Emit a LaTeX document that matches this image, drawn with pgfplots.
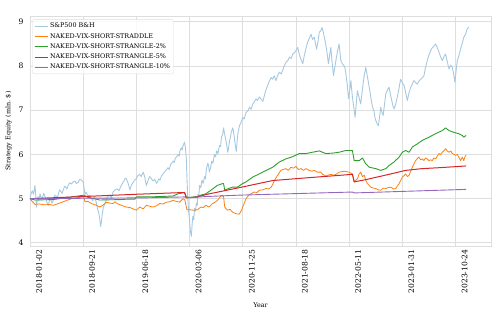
\documentclass[border=0pt]{standalone}
\usepackage{fontspec}
\setmainfont{DejaVu Serif}
\usepackage{pgfplots}
\pgfplotsset{compat=1.18}
\definecolor{spx}{RGB}{165,201,225}
\definecolor{tabor}{RGB}{255,127,14}
\definecolor{tabgr}{RGB}{44,160,44}
\definecolor{tabrd}{RGB}{214,39,40}
\definecolor{tabpu}{RGB}{148,103,189}
\definecolor{gridc}{RGB}{222,222,222}
\begin{document}
\begin{tikzpicture}
\path[use as bounding box] (-30pt,-63pt) rectangle (468pt,246pt);
\begin{axis}[
  at={(0,0)}, anchor=south west,
  scale only axis, width=461pt, height=230pt,
  xmin=0, xmax=1560, ymin=3.93, ymax=9.13,
  xtick={0,180,360,540,720,900,1080,1260,1440},
  xticklabels={2018-01-02,2018-09-21,2019-06-18,2020-03-06,2020-11-25,2021-08-18,2022-05-11,2023-01-31,2023-10-24},
  ytick={4,5,6,7,8,9},
  /pgf/number format/assume math mode=true,
  major tick length=0pt,
  grid=major,
  major grid style={color=gridc, line width=0.9pt},
  axis line style={color=gridc, line width=0.9pt},
  tick label style={font=\fontsize{7.6}{8.5}\selectfont},
  xticklabel style={rotate=90, anchor=east, yshift=-9pt},
  yticklabel style={xshift=-3pt},
  xlabel={Year},
  ylabel={Strategy Equity (mln. \$)},
  label style={font=\fontsize{6.4}{7.5}\selectfont},
  xlabel style={yshift=-3pt},
  legend pos=north west,
  legend cell align=left,
  legend style={font=\fontsize{6.4}{7.5}\selectfont, draw=gridc, fill=white, fill opacity=0.8, text opacity=1, rounded corners=1.5pt, at={(0.005,0.985)}, anchor=north west, inner sep=1.5pt},
  legend image code/.code={\draw[#1] (0pt,0pt) -- (13pt,0pt);},
  every axis plot/.append style={line join=round},
]
\addplot[spx, line width=0.9pt] coordinates {
(0,5.01)(4,5.12)(8,5.18)(12,5.10)(17,5.30)(22,4.81)(25,5.0)(27,5.05)(30,4.95)(34,5.11)(38,5.02)(42,5.0)(46,5.12)(51,5.05)(57,4.92)(62,4.85)(66,4.97)(70,4.98)(74,4.90)(79,4.96)(84,5.08)(88,5.06)(92,5.02)(96,5.10)(100,5.20)(104,5.17)(108,5.12)(113,5.20)(117,5.28)(121,5.26)(125,5.22)(129,5.30)(134,5.36)(140,5.33)(146,5.38)(152,5.40)(157,5.34)(163,5.37)(168,5.44)(174,5.42)(180,5.38)(186,5.10)(190,5.15)(196,5.06)(202,5.08)(208,5.00)(212,4.95)(216,5.04)(222,4.96)(225,4.90)(229,4.75)(232,4.70)(236,4.55)(239,4.37)(242,4.50)(244,4.62)(248,4.80)(253,4.88)(259,5.00)(264,5.05)(270,5.08)(275,5.02)(281,5.15)(288,5.20)(295,5.22)(301,5.18)(309,5.30)(314,5.36)(318,5.40)(322,5.46)(326,5.45)(332,5.35)(335,5.28)(338,5.20)(343,5.30)(348,5.36)(354,5.42)(360,5.45)(365,5.52)(371,5.55)(376,5.50)(383,5.60)(388,5.50)(391,5.38)(394,5.30)(400,5.42)(405,5.50)(410,5.46)(416,5.40)(422,5.44)(428,5.35)(432,5.38)(436,5.45)(440,5.42)(444,5.50)(450,5.56)(455,5.60)(461,5.65)(467,5.70)(471,5.66)(476,5.78)(480,5.80)(484,5.85)(488,5.82)(492,5.92)(497,5.95)(501,6.00)(505,5.96)(507,6.08)(512,6.15)(515,6.10)(518,6.20)(523,6.28)(526,6.15)(529,5.90)(531,5.50)(534,5.00)(537,4.70)(540,4.50)(543,4.25)(546,4.15)(549,4.45)(551,4.60)(554,4.52)(557,4.78)(560,4.72)(563,4.90)(566,4.85)(568,5.10)(571,5.05)(574,5.30)(578,5.25)(582,5.42)(586,5.35)(591,5.50)(594,5.45)(597,5.68)(602,5.80)(605,5.72)(607,5.60)(611,5.70)(615,5.85)(619,5.80)(624,6.00)(628,5.95)(632,6.08)(636,6.02)(641,6.20)(645,6.18)(648,6.40)(652,6.45)(655,6.60)(658,6.48)(662,6.35)(666,6.20)(669,6.05)(672,6.15)(675,6.30)(678,6.38)(681,6.50)(686,6.60)(689,6.50)(692,6.35)(695,6.20)(698,6.07)(701,6.30)(704,6.50)(709,6.65)(714,6.72)(720,6.84)(725,6.80)(731,6.95)(737,6.98)(743,7.07)(748,7.02)(754,7.14)(760,7.20)(765,7.26)(770,7.22)(776,7.30)(782,7.25)(788,7.20)(793,7.33)(798,7.45)(804,7.56)(810,7.66)(816,7.74)(821,7.70)(827,7.78)(832,7.67)(838,7.78)(844,7.86)(850,7.82)(855,7.90)(860,8.00)(866,8.08)(872,8.12)(878,8.20)(884,8.17)(889,8.27)(895,8.30)(900,8.35)(906,8.42)(911,8.27)(917,8.15)(923,8.05)(928,8.23)(934,8.40)(939,8.53)(945,8.62)(951,8.72)(956,8.60)(962,8.65)(966,8.50)(970,8.38)(975,8.58)(979,8.76)(984,8.80)(988,8.87)(992,8.78)(996,8.65)(1000,8.52)(1004,8.35)(1007,8.20)(1010,8.05)(1014,8.25)(1018,8.42)(1022,8.10)(1027,7.78)(1032,8.00)(1037,8.20)(1041,8.35)(1046,8.50)(1049,8.30)(1052,8.12)(1057,8.05)(1063,8.00)(1066,7.95)(1069,7.82)(1074,7.55)(1078,7.26)(1082,7.45)(1086,7.67)(1088,7.50)(1091,7.30)(1096,7.05)(1100,6.84)(1104,7.15)(1108,7.44)(1113,7.30)(1119,7.14)(1123,7.35)(1127,7.59)(1131,7.78)(1136,7.97)(1142,7.75)(1148,7.52)(1152,7.35)(1157,7.14)(1160,7.05)(1164,6.99)(1167,6.85)(1170,6.77)(1174,6.70)(1179,6.65)(1183,6.85)(1187,7.07)(1191,6.95)(1195,6.88)(1199,7.10)(1204,7.37)(1209,7.45)(1215,7.52)(1219,7.38)(1224,7.22)(1228,7.10)(1232,7.03)(1238,7.15)(1243,7.30)(1249,7.50)(1254,7.70)(1260,7.62)(1266,7.56)(1271,7.40)(1277,7.22)(1282,7.38)(1288,7.52)(1293,7.58)(1299,7.67)(1305,7.62)(1311,7.59)(1316,7.66)(1322,7.70)(1328,7.74)(1333,7.78)(1338,7.95)(1344,8.12)(1350,8.25)(1356,8.35)(1362,8.42)(1368,8.46)(1373,8.50)(1378,8.42)(1384,8.31)(1390,8.20)(1395,8.12)(1400,8.20)(1406,8.27)(1412,8.10)(1418,7.93)(1424,8.02)(1429,7.97)(1434,7.80)(1438,7.63)(1442,7.90)(1446,8.12)(1452,8.25)(1457,8.38)(1462,8.50)(1468,8.65)(1474,8.72)(1479,8.83)(1485,8.88)
};
\addlegendentry{S\&P500 B\&H}
\addplot[tabor, line width=0.8pt] coordinates {
(0,5.00)(6,4.95)(17,4.87)(30,4.88)(50,4.86)(65,4.87)(79,4.85)(100,4.90)(124,4.96)(141,5.00)(160,5.02)(174,5.04)(182,5.04)(186,4.93)(196,4.94)(208,4.89)(225,4.85)(236,4.81)(248,4.86)(259,4.92)(270,4.90)(281,4.89)(287,4.93)(298,4.88)(309,4.85)(326,4.81)(338,4.80)(349,4.77)(360,4.74)(371,4.81)(383,4.77)(394,4.85)(405,4.83)(416,4.81)(428,4.84)(439,4.89)(450,4.88)(461,4.92)(472,4.93)(484,4.96)(495,4.94)(506,4.92)(518,5.00)(524,4.97)(531,4.75)(539,4.75)(553,4.74)(567,4.75)(578,4.81)(586,4.80)(595,4.85)(606,4.81)(618,4.89)(626,4.92)(634,4.96)(641,5.02)(648,5.08)(655,5.05)(659,4.81)(668,4.74)(677,4.76)(685,4.70)(697,4.66)(708,4.65)(716,4.74)(722,4.85)(731,5.00)(740,5.08)(750,5.12)(759,5.15)(768,5.14)(776,5.19)(788,5.20)(799,5.23)(808,5.22)(816,5.26)(822,5.33)(827,5.41)(838,5.53)(849,5.64)(858,5.66)(866,5.68)(874,5.64)(883,5.71)(892,5.69)(900,5.73)(908,5.66)(917,5.68)(925,5.64)(934,5.68)(945,5.64)(954,5.62)(962,5.64)(973,5.60)(984,5.60)(990,5.55)(996,5.53)(1007,5.53)(1018,5.55)(1029,5.53)(1038,5.56)(1046,5.60)(1055,5.61)(1063,5.62)(1072,5.61)(1080,5.60)(1091,5.56)(1097,5.38)(1102,5.42)(1108,5.45)(1113,5.55)(1119,5.60)(1125,5.50)(1131,5.53)(1136,5.42)(1142,5.34)(1148,5.30)(1153,5.26)(1162,5.24)(1170,5.23)(1179,5.20)(1187,5.19)(1195,5.24)(1204,5.23)(1212,5.25)(1221,5.26)(1230,5.22)(1238,5.23)(1244,5.30)(1249,5.34)(1255,5.42)(1260,5.49)(1266,5.52)(1271,5.56)(1277,5.50)(1283,5.53)(1288,5.62)(1294,5.71)(1300,5.80)(1305,5.86)(1310,5.90)(1316,5.94)(1322,5.88)(1328,5.90)(1333,5.86)(1338,5.92)(1344,5.90)(1350,5.86)(1356,5.88)(1361,5.86)(1367,5.92)(1373,5.90)(1378,5.96)(1384,6.02)(1390,6.00)(1395,6.05)(1400,6.08)(1406,6.13)(1412,6.08)(1418,6.05)(1424,6.08)(1429,6.02)(1435,6.00)(1440,5.98)(1446,6.00)(1451,5.94)(1457,5.86)(1463,5.94)(1468,5.86)(1472,5.95)(1476,5.98)
};
\addlegendentry{NAKED-VIX-SHORT-STRADDLE}
\addplot[tabgr, line width=0.9pt] coordinates {
(0,5.00)(17,4.97)(79,4.98)(120,5.02)(151,5.05)(184,5.08)(190,5.04)(218,5.00)(235,4.97)(308,4.98)(331,4.99)(355,4.99)(360,5.04)(405,5.04)(484,5.06)(501,5.11)(523,5.14)(529,5.04)(539,5.03)(567,5.05)(578,5.08)(595,5.11)(612,5.19)(634,5.30)(651,5.34)(655,5.34)(659,5.19)(668,5.22)(685,5.26)(702,5.26)(719,5.34)(731,5.38)(754,5.49)(776,5.56)(799,5.64)(821,5.71)(844,5.83)(866,5.90)(889,5.95)(911,6.02)(934,6.02)(956,6.05)(979,6.08)(1001,6.02)(1024,6.03)(1046,6.05)(1069,6.09)(1091,6.09)(1097,5.86)(1114,5.86)(1125,5.92)(1136,5.79)(1148,5.71)(1170,5.68)(1187,5.64)(1204,5.68)(1215,5.75)(1232,5.83)(1249,5.94)(1260,6.05)(1271,6.09)(1283,6.05)(1294,6.17)(1311,6.24)(1328,6.32)(1350,6.39)(1373,6.47)(1395,6.54)(1406,6.60)(1418,6.54)(1434,6.50)(1451,6.47)(1463,6.43)(1468,6.39)(1476,6.43)
};
\addlegendentry{NAKED-VIX-SHORT-STRANGLE-2\%}
\addplot[tabrd, line width=1pt] coordinates {
(0,5.00)(186,5.05)(360,5.10)(523,5.14)(529,5.02)(560,5.03)(600,5.10)(709,5.25)(821,5.41)(934,5.47)(1091,5.55)(1097,5.38)(1136,5.43)(1215,5.55)(1271,5.64)(1328,5.68)(1384,5.70)(1476,5.74)
};
\addlegendentry{NAKED-VIX-SHORT-STRANGLE-5\%}
\addplot[tabpu, line width=0.9pt] coordinates {
(0,5.00)(200,5.01)(400,5.02)(523,5.04)(529,5.02)(600,5.05)(709,5.08)(1091,5.15)(1097,5.13)(1476,5.21)
};
\addlegendentry{NAKED-VIX-SHORT-STRANGLE-10\%}
\node[anchor=south west, font=\fontsize{6.4}{7.5}\selectfont, inner sep=0pt] at (rel axis cs:0,1) [yshift=3pt] {1e6};
\end{axis}
\end{tikzpicture}
\end{document}
